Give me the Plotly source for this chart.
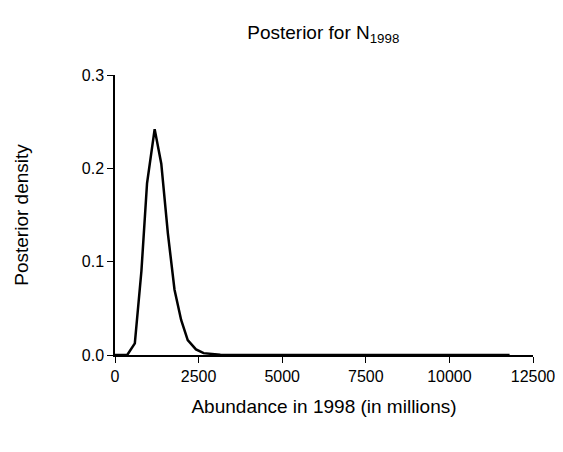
import plotly.graph_objects as go

abundance = [0, 365, 593, 790, 958, 1186, 1384, 1582, 1780, 1978, 2175, 2421, 2650, 2900, 3150, 3500, 4000, 5000, 7000, 9000, 11800]
density = [0, 0, 0.0125, 0.09, 0.184, 0.242, 0.205, 0.130, 0.070, 0.0375, 0.016, 0.006, 0.002, 0.0008, 0.0003, 0.0001, 0, 0, 0, 0, 0]
x_ticks = [0, 2500, 5000, 7500, 10000, 12500]
y_ticks = [0, 0.1, 0.2, 0.3]

fig = go.Figure(go.Scatter(x=abundance, y=density, mode="lines",
                           line=dict(color="black", width=2.5), showlegend=False))

fig.update_xaxes(range=[0, 12500], tickvals=x_ticks, ticktext=[str(v) for v in x_ticks],
                 showline=True, linecolor="black", linewidth=1.5, ticks="outside",
                 ticklen=6, tickcolor="black", showgrid=False, zeroline=False,
                 title=dict(text="Abundance in 1998 (in millions)", standoff=16))
fig.update_yaxes(range=[0, 0.3], tickvals=y_ticks, tickformat=".1f",
                 showline=True, linecolor="black", linewidth=1.5, ticks="outside",
                 ticklen=6, tickcolor="black", showgrid=False, zeroline=False,
                 title=dict(text="Posterior density", standoff=48))
fig.update_layout(
    width=563, height=452, plot_bgcolor="white", paper_bgcolor="white",
    font=dict(family="Liberation Sans, Arial", size=16, color="black"),
    title=dict(text="Posterior for N<sub>1998</sub>", x=0.56, xanchor="center", y=0.96, font=dict(size=19)),
    margin=dict(l=104, r=38, t=67, b=105),
)
fig.write_html("out.html")
